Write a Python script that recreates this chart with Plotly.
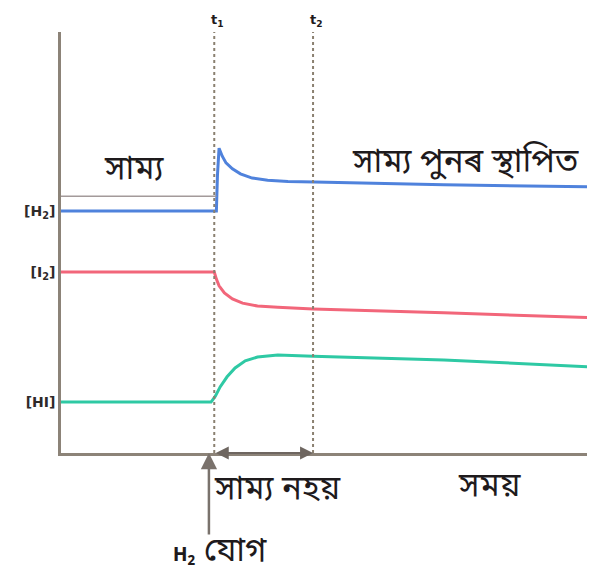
import plotly.graph_objects as go

# time markers
t_marks = [2.87, 4.72]
t_labels = ["t<sub>1</sub>", "t<sub>2</sub>"]

# concentration curves (time, value)
h2_t = [0, 2.91, 2.93, 2.96, 3.02, 3.09, 3.21, 3.36, 3.58, 3.87, 4.25, 4.75, 7.17, 10]
h2_c = [5.75, 5.75, 6.6, 7.24, 7.05, 6.89, 6.75, 6.63, 6.53, 6.48, 6.45, 6.44, 6.37, 6.32]

i2_t = [0, 2.87, 2.91, 2.96, 3.06, 3.21, 3.40, 3.68, 4.06, 4.72, 7.17, 10]
i2_c = [4.30, 4.30, 4.13, 3.97, 3.80, 3.66, 3.56, 3.49, 3.46, 3.42, 3.33, 3.21]

hi_t = [0, 2.81, 2.89, 2.98, 3.11, 3.26, 3.45, 3.68, 4.06, 4.72, 7.17, 10]
hi_c = [1.21, 1.21, 1.35, 1.57, 1.81, 2.02, 2.19, 2.28, 2.33, 2.30, 2.21, 2.04]

y_tick_vals = [5.75, 4.30, 1.21]
y_tick_text = ["<b>[H<sub>2</sub>]</b>", "<b>[I<sub>2</sub>]</b>", "<b>[HI]</b>"]

eq_bar_level = 6.1

BN = "Noto Sans Bengali, Noto Sans, Noto Serif Bengali, sans-serif"
ink = "#1e1a1c"
axis_col = "#8c8378"

fig = go.Figure()
fig.add_trace(go.Scatter(x=h2_t, y=h2_c, mode="lines", line=dict(color="#4f82dc", width=3), showlegend=False))
fig.add_trace(go.Scatter(x=i2_t, y=i2_c, mode="lines", line=dict(color="#f2667a", width=3), showlegend=False))
fig.add_trace(go.Scatter(x=hi_t, y=hi_c, mode="lines", line=dict(color="#2ec9a4", width=3), showlegend=False))
# equilibrium bar above H2
fig.add_trace(go.Scatter(x=[0, t_marks[0] + 0.04], y=[eq_bar_level, eq_bar_level], mode="lines",
                         line=dict(color="#a39a9a", width=1.5), showlegend=False))

for t, lab in zip(t_marks, t_labels):
    fig.add_shape(type="line", xref="x", yref="paper", x0=t, x1=t, y0=0, y1=1.0,
                  line=dict(color="#8a8070", width=2, dash="dot"))
    fig.add_annotation(x=t, y=1.052, xref="x", yref="paper", text="<b>" + lab + "</b>", showarrow=False,
                       xanchor="center", yanchor="top", xshift=3,
                       font=dict(family="DejaVu Sans", size=13, color=ink))

# double arrow between t1 and t2 on x axis
fig.add_annotation(x=t_marks[1], y=0, ax=t_marks[0], ay=0, xref="x", yref="y", axref="x", ayref="y",
                   showarrow=True, arrowhead=2, arrowside="end+start", arrowsize=1.3, arrowwidth=2,
                   arrowcolor="#6e6660", text="")
# vertical arrow (H2 added)
fig.add_annotation(x=2.77, y=0, ax=2.77, ay=-1.97, xref="x", yref="y", axref="x", ayref="y",
                   showarrow=True, arrowhead=2, arrowsize=1.3, arrowwidth=2.5,
                   arrowcolor="#7a726c", text="")

texts = [
    (0.138, 0.672, "middle", "সাম্য"),
    (0.757, 0.689, "middle", "সাম্য পুনৰ স্থাপিত"),
    (0.406, -0.088, "middle", "সাম্য নহয়"),
    (0.802, -0.081, "middle", "সময়"),
    (0.298, -0.291, "bottom", "<b><span style='font-size:19px'>H<sub>2</sub></span></b> যোগ"),
]
for x, y, ya, s in texts:
    fig.add_annotation(x=x, y=y, xref="paper", yref="paper", text=s, showarrow=False,
                       xanchor="center", yanchor=ya,
                       font=dict(family=BN, size=33, color=ink))

fig.update_layout(
    width=587, height=567,
    margin=dict(l=53, r=0, t=24, b=122),
    paper_bgcolor="white", plot_bgcolor="white",
    xaxis=dict(range=[0, 10], showline=True, linecolor=axis_col, linewidth=2.5,
               showgrid=False, zeroline=False, showticklabels=False, ticks=""),
    yaxis=dict(range=[0, 10], showline=True, linecolor=axis_col, linewidth=2.5,
               showgrid=False, zeroline=False, tickvals=y_tick_vals, ticktext=y_tick_text,
               ticks="", ticklen=0,
               tickfont=dict(family="DejaVu Sans", size=14, color="#2e2a2a")),
)

fig.write_html("out.html")
